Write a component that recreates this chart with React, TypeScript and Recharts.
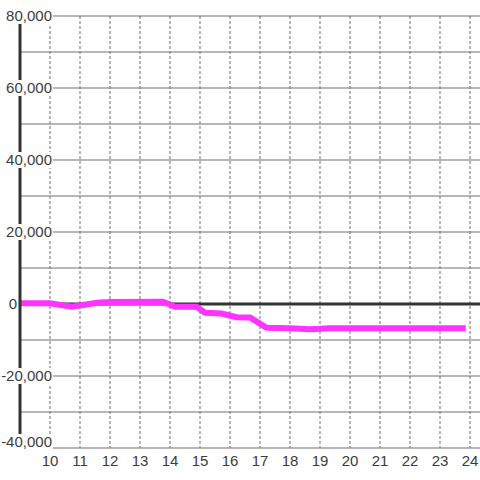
import { LineChart, Line, XAxis, YAxis, CartesianGrid } from "recharts"

// hour of day (decimal) and running value
const hours = [9, 10, 10.73, 11.57, 12, 13.77, 14.17, 14.89, 15.17, 15.72, 16.22, 16.67, 17.22, 18, 18.67, 19.33, 19.83, 23.86]
const values = [200, 200, -750, 330, 560, 600, -780, -780, -2440, -2640, -3670, -3750, -6610, -6750, -7000, -6750, -6720, -6720]

const xTicks = [10, 11, 12, 13, 14, 15, 16, 17, 18, 19, 20, 21, 22, 23, 24]
const yTicks = [-40000, -20000, 0, 20000, 40000, 60000, 80000]
const yGrid = [-40000, -30000, -20000, -10000, 0, 10000, 20000, 30000, 40000, 50000, 60000, 70000, 80000]

const data = hours.map((h, i) => ({ hour: h, value: values[i] }))

const font = "'Liberation Sans', Arial, sans-serif"
const fontSize = 15
const textColor = "#3c3c3c"

// rough glyph widths for Liberation Sans at 15px
const labelWidth = (s: string) =>
  s.split("").reduce((w, c) => w + (c === "," ? 4.17 : c === "-" ? 5 : 8.34), 0)

const YTick = ({ y, payload }: any) => {
  const v = payload.value as number
  const label = v.toLocaleString("en-US")
  const w = labelWidth(label)
  const right = w > 15 ? 52 : 17
  const cy = v === -40000 ? y - 6 : y
  return (
    <g>
      <rect x={right - w - 1} y={cy - 8} width={w + 2} height={16} fill="#fff" />
      <text x={right} y={cy} dy="0.35em" textAnchor="end" fontFamily={font} fontSize={fontSize} fill={textColor}>
        {label}
      </text>
    </g>
  )
}

const XTick = ({ x, y, payload }: any) => (
  <text x={x} y={y + 13} dy="0.35em" textAnchor="middle" fontFamily={font} fontSize={fontSize} fill={textColor}>
    {payload.value}
  </text>
)

export default function App() {
  return (
    <div style={{ position: "fixed", left: 0, top: 0, width: 480, height: 480, background: "#fff" }}>
      <LineChart width={480} height={480} data={data} margin={{ top: 16, right: 0, bottom: 0, left: 0 }}>
        <CartesianGrid horizontalValues={yGrid} vertical={false} stroke="#6e6e6e" />
        <CartesianGrid verticalValues={xTicks} horizontal={false} stroke="#6e6e6e" strokeDasharray="3 2" />
        <CartesianGrid horizontalValues={[0]} vertical={false} stroke="#333" strokeWidth={3} />
        <XAxis
          dataKey="hour"
          type="number"
          domain={[9, 24 + 1 / 3]}
          ticks={xTicks}
          allowDataOverflow
          height={32}
          axisLine={false}
          tickLine={false}
          tickSize={0}
          tickMargin={0}
          tick={<XTick />}
        />
        <YAxis
          type="number"
          domain={[-40000, 80000]}
          ticks={yTicks}
          width={20}
          axisLine={{ stroke: "#333", strokeWidth: 3 }}
          tickLine={false}
          tick={<YTick />}
        />
        <Line
          type="linear"
          dataKey="value"
          stroke="#ff33ff"
          strokeWidth={6}
          dot={false}
          isAnimationActive={false}
        />
      </LineChart>
    </div>
  )
}
